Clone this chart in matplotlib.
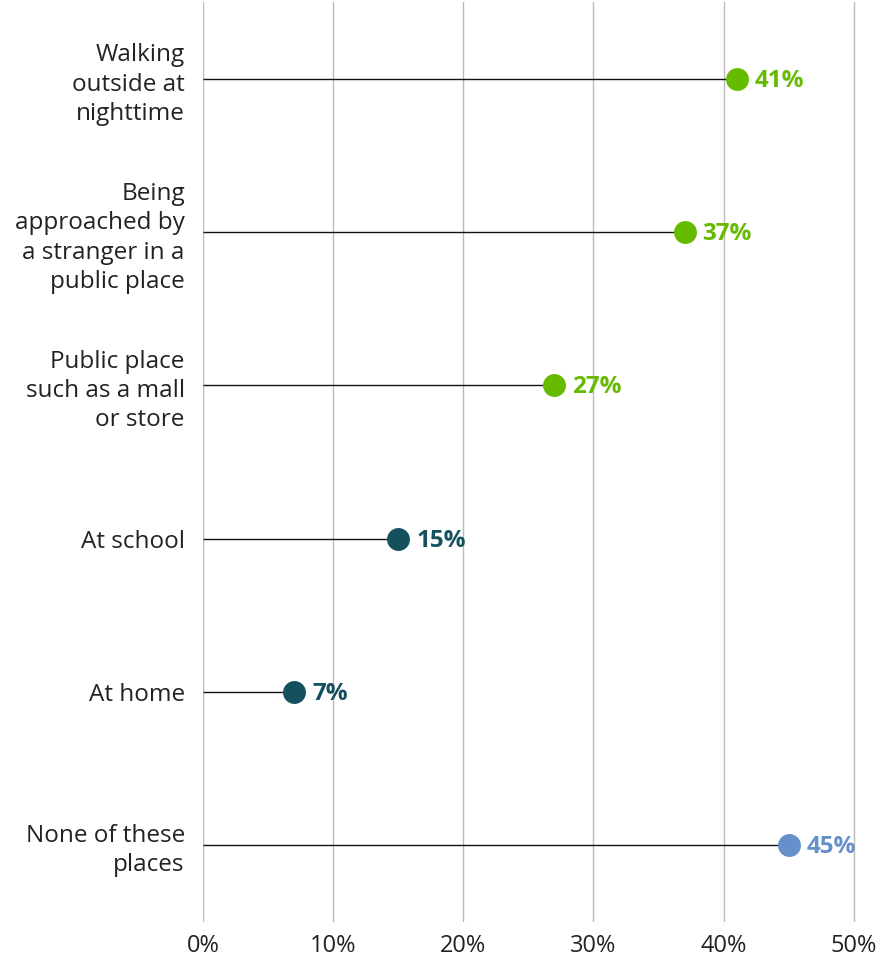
import matplotlib
matplotlib.use("Agg")
import matplotlib.pyplot as plt

plt.rcParams['font.family'] = ['Open Sans', 'DejaVu Sans']

categories = [
    "Walking\noutside at\nnighttime",
    "Being\napproached by\na stranger in a\npublic place",
    "Public place\nsuch as a mall\nor store",
    "At school",
    "At home",
    "None of these\nplaces",
]
values = [41, 37, 27, 15, 7, 45]
colors = ["#66bb00", "#66bb00", "#66bb00", "#15505e", "#15505e", "#6690cc"]
x_ticks = [0, 10, 20, 30, 40, 50]
x_tick_labels = ["0%", "10%", "20%", "30%", "40%", "50%"]

fig = plt.figure(figsize=(8.82, 9.59), dpi=100)
ax = fig.add_axes([0.230, 0.039, 0.741, 0.9585])

ypos = list(range(len(categories)))
for y, v, c in zip(ypos, values, colors):
    ax.hlines(y, 0, v, color="#111111", linewidth=1.0, zorder=2)
    ax.plot(v, y, "o", color=c, markersize=16.5, markeredgewidth=0, zorder=3)
    ax.annotate(f"{v}%", xy=(v, y), xytext=(13, -1.5), textcoords="offset points",
                ha="left", va="center", fontsize=17.5, fontweight="bold", color=c)

ax.set_xlim(0, 50.2)
ax.set_ylim(len(categories) - 0.5, -0.5)
ax.set_xticks(x_ticks)
ax.set_xticklabels(x_tick_labels, fontsize=17, color="#222222")
ax.set_yticks(ypos)
ax.set_yticklabels(categories, fontsize=17.5, color="#222222", linespacing=1.3)
ax.tick_params(axis="both", length=0)
ax.tick_params(axis="x", pad=9)
ax.tick_params(axis="y", pad=13)
ax.xaxis.grid(True, color="#bbbbbb", linewidth=1.0, zorder=0)
ax.set_axisbelow(True)
for s in ax.spines.values():
    s.set_visible(False)

fig.savefig("out.png", dpi=100)
